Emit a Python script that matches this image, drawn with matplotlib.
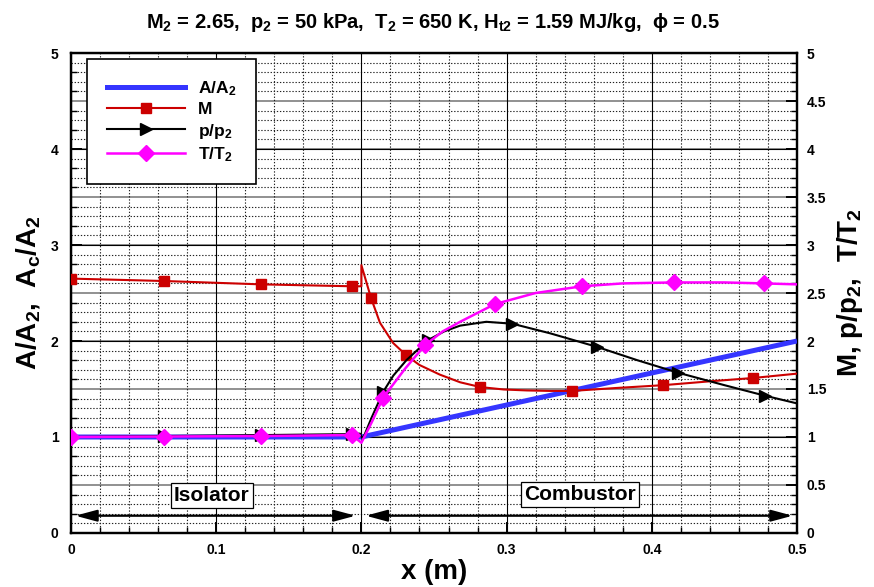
import numpy as np
import matplotlib
matplotlib.use("Agg")
import matplotlib.pyplot as plt
from matplotlib.lines import Line2D
from matplotlib.ticker import MultipleLocator, FixedLocator, FixedFormatter

plt.rcParams["font.family"] = ["Liberation Sans", "DejaVu Sans"]
plt.rcParams["font.weight"] = "bold"
plt.rcParams["mathtext.fontset"] = "custom"
plt.rcParams["mathtext.rm"] = "Liberation Sans:bold"
plt.rcParams["mathtext.it"] = "Liberation Sans:bold"
plt.rcParams["mathtext.bf"] = "Liberation Sans:bold"

# ---- data ----
area_x = [0.0, 0.2, 0.5]
area_y = [1.0, 1.0, 2.0]

mach_x = [0.0, 0.064, 0.131, 0.1935, 0.2, 0.2, 0.2066, 0.2128, 0.2218, 0.231, 0.240,
          0.254, 0.268, 0.282, 0.298, 0.314, 0.33, 0.345, 0.375, 0.408, 0.44, 0.47, 0.5]
mach_y = [2.65, 2.625, 2.59, 2.57, 2.57, 2.79, 2.45, 2.19, 1.98, 1.85, 1.75,
          1.65, 1.57, 1.52, 1.495, 1.485, 1.48, 1.48, 1.51, 1.54, 1.58, 1.615, 1.66]
mach_mark_x = [0.0, 0.064, 0.131, 0.1935, 0.2066, 0.231, 0.282, 0.345, 0.408, 0.47]
mach_mark_y = [2.65, 2.625, 2.59, 2.57, 2.45, 1.85, 1.52, 1.48, 1.54, 1.615]

p_x = [0.0, 0.064, 0.131, 0.1935, 0.199, 0.201, 0.207, 0.215, 0.222, 0.231, 0.246,
       0.257, 0.268, 0.286, 0.304, 0.33, 0.362, 0.39, 0.418, 0.45, 0.478, 0.5]
p_y = [1.0, 1.01, 1.02, 1.03, 1.035, 0.98, 1.2, 1.47, 1.64, 1.80, 2.01,
       2.10, 2.16, 2.20, 2.18, 2.08, 1.94, 1.80, 1.67, 1.54, 1.43, 1.35]
p_mark_x = [0.0, 0.064, 0.131, 0.1935, 0.215, 0.246, 0.304, 0.362, 0.418, 0.478]
p_mark_y = [1.0, 1.01, 1.02, 1.03, 1.47, 2.01, 2.18, 1.94, 1.67, 1.43]

t_x = [0.0, 0.064, 0.131, 0.1935, 0.2, 0.207, 0.215, 0.23, 0.244, 0.256, 0.268,
       0.292, 0.32, 0.352, 0.38, 0.415, 0.45, 0.477, 0.5]
t_y = [1.0, 1.005, 1.01, 1.02, 0.94, 1.15, 1.41, 1.71, 1.96, 2.10, 2.20,
       2.385, 2.50, 2.57, 2.60, 2.61, 2.61, 2.60, 2.59]
t_mark_x = [0.0, 0.064, 0.131, 0.1935, 0.215, 0.244, 0.292, 0.352, 0.415, 0.477]
t_mark_y = [1.0, 1.005, 1.01, 1.02, 1.41, 1.96, 2.385, 2.57, 2.61, 2.60]

x_ticks = [0.0, 0.1, 0.2, 0.3, 0.4, 0.5]
x_labels = ["0", "0.1", "0.2", "0.3", "0.4", "0.5"]
left_ticks = [0, 1, 2, 3, 4, 5]
left_labels = ["0", "1", "2", "3", "4", "5"]
right_ticks = [0, 0.5, 1, 1.5, 2, 2.5, 3, 3.5, 4, 4.5, 5]
right_labels = ["0", "0.5", "1", "1.5", "2", "2.5", "3", "3.5", "4", "4.5", "5"]

isolator_span = (0.003, 0.196)
combustor_span = (0.203, 0.497)
span_y = 0.18

BLUE = "#3535ff"
RED = "#cc0000"
MAGENTA = "#ff00ff"

fig = plt.figure(figsize=(8.74, 5.87), dpi=100)
ax = fig.add_axes([0.0812, 0.092, 0.8307, 0.8177])
ax2 = ax.twinx()
ax.set_zorder(2)
ax2.set_zorder(1)
ax.patch.set_visible(False)

for a in (ax, ax2):
    a.set_xlim(0, 0.5)
    a.set_ylim(0, 5)
    for s in a.spines.values():
        s.set_linewidth(1.6)

# ticks and grids
ax.xaxis.set_major_locator(FixedLocator(x_ticks))
ax.xaxis.set_major_formatter(FixedFormatter(x_labels))
ax.xaxis.set_minor_locator(MultipleLocator(0.02))
ax.yaxis.set_major_locator(FixedLocator(left_ticks))
ax.yaxis.set_major_formatter(FixedFormatter(left_labels))
ax.yaxis.set_minor_locator(MultipleLocator(0.2))
ax2.yaxis.set_major_locator(FixedLocator(right_ticks))
ax2.yaxis.set_major_formatter(FixedFormatter(right_labels))
ax2.yaxis.set_minor_locator(MultipleLocator(0.1))

ax2.grid(axis="y", which="major", color="#888888", lw=1.3, ls="-")
ax2.grid(axis="y", which="minor", color="#222222", lw=0.8, ls=(0, (1.2, 1.6)))
ax.grid(axis="x", which="major", color="black", lw=0.8, ls="-")
ax.grid(axis="x", which="minor", color="#222222", lw=0.8, ls=(0, (1.2, 1.6)))
ax.grid(axis="y", which="major", color="black", lw=0.8, ls="-")
ax.set_axisbelow(True)

ax.tick_params(axis="both", which="major", direction="in", length=8, width=1.4,
               labelsize=10, top=False, right=False)
ax.tick_params(axis="both", which="minor", direction="in", length=4, width=1.0,
               top=False, right=False)
ax.tick_params(axis="x", pad=7)
ax.tick_params(axis="y", pad=9)
ax2.tick_params(axis="y", which="major", direction="in", length=8, width=1.4,
                labelsize=10, pad=7)
ax2.tick_params(axis="y", which="minor", direction="in", length=4, width=1.0)
for lab in ax.get_xticklabels() + ax.get_yticklabels() + ax2.get_yticklabels():
    lab.set_fontweight("bold")

# curves
ax.plot(area_x, area_y, color=BLUE, lw=3.6, solid_capstyle="butt", zorder=3)
ax.plot(mach_x, mach_y, color=RED, lw=1.5, zorder=4)
ax.plot(mach_mark_x, mach_mark_y, ls="none", marker="s", ms=7.5, color=RED, zorder=4)
ax.plot(p_x, p_y, color="black", lw=1.5, zorder=5)
ax.plot(p_mark_x, p_mark_y, ls="none", marker=">", ms=8.5, color="black", zorder=5)
ax.plot(t_x, t_y, color=MAGENTA, lw=1.8, zorder=6)
ax.plot(t_mark_x, t_mark_y, ls="none", marker="D", ms=8, color=MAGENTA, zorder=6)

# isolator / combustor spans
for (x0, x1) in (isolator_span, combustor_span):
    ax.annotate("", xy=(x0, span_y), xytext=(x1, span_y),
                arrowprops=dict(arrowstyle="<|-|>,head_length=1.3,head_width=0.35",
                                color="black", lw=1.6, shrinkA=0, shrinkB=0), zorder=7)
box = dict(boxstyle="square,pad=0.15", fc="white", ec="black", lw=0.9)
ax.text(0.0968, 0.39, "Isolator", fontsize=15, fontweight="bold", ha="center",
        va="center", bbox=box, zorder=8)
ax.text(0.3505, 0.40, "Combustor", fontsize=15, fontweight="bold", ha="center",
        va="center", bbox=box, zorder=8)

# legend
handles = [
    Line2D([], [], color=BLUE, lw=3.6),
    Line2D([], [], color=RED, lw=1.5, marker="s", ms=7.5),
    Line2D([], [], color="black", lw=1.5, marker=">", ms=8.5),
    Line2D([], [], color=MAGENTA, lw=1.8, marker="D", ms=8),
]
labels = ["A/A$_2$", "M", "p/p$_2$", "T/T$_2$"]
leg = ax.legend(handles, labels, loc="upper left", bbox_to_anchor=(0.022, 0.9875),
                borderaxespad=0, fontsize=12.5, handlelength=4.5, numpoints=1,
                labelspacing=0.25, handletextpad=0.75, borderpad=1.15,
                fancybox=False, framealpha=1, edgecolor="black")
leg.get_frame().set_linewidth(1.2)
for t in leg.get_texts():
    t.set_fontweight("bold")

ax.set_xlabel("x (m)", fontsize=20, fontweight="bold", labelpad=2)
ax.set_ylabel("A/A$_2$,  A$_\\mathrm{c}$/A$_2$", fontsize=20, fontweight="bold", labelpad=6)
ax2.set_ylabel("M, p/p$_2$,  T/T$_2$", fontsize=20, fontweight="bold", labelpad=6)

fig.text(0.495, 1 - 22 / 587,
         "M$_2$ = 2.65,  p$_2$ = 50 kPa,  T$_2$ = 650 K, H$_{\\mathrm{t2}}$ = 1.59 MJ/kg,  \u03d5 = 0.5",
         ha="center", va="center", fontsize=14.5, fontweight="bold")

fig.savefig("out.png", dpi=100)
